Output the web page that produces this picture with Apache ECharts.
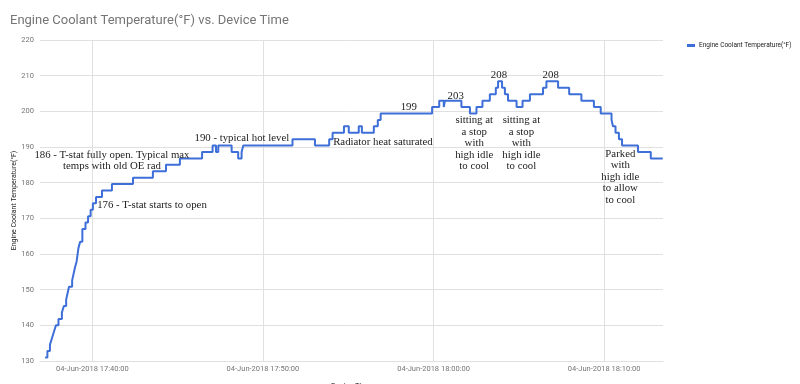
<!DOCTYPE html>
<html>
<head>
<meta charset="utf-8">
<script src="https://cdn.jsdelivr.net/npm/echarts@6/dist/echarts.min.js"></script>
<style>
html,body{margin:0;padding:0;background:#fff;}
#chart{width:800px;height:384px;}
</style>
</head>
<body>
<div id="chart"></div>
<script>
// ---- data ----
const deviceTimes = ['17:37:14','17:37:22','17:37:31','17:37:38','17:37:45','17:37:52','17:38:01','17:38:13','17:38:20','17:38:28',
  '17:38:33','17:38:38','17:38:49','17:38:54','17:38:59','17:39:05','17:39:11','17:39:17',
  '17:39:25','17:39:36','17:39:45','17:39:54','17:40:02','17:40:13','17:40:34','17:41:09','17:42:23','17:43:33',
  '17:44:19','17:45:08','17:46:26','17:47:03','17:47:15','17:47:23','17:48:10','17:48:33','17:48:45','17:48:51',
  '17:51:44','17:53:03','17:53:53','17:54:05','17:54:45','17:55:02','17:55:37','17:55:48','17:56:30','17:56:44',
  '17:56:54','17:59:55','18:00:20','18:00:36','18:00:40','18:01:38','18:02:08','18:02:31','18:02:52','18:03:18',
  '18:03:39','18:03:47','18:04:01','18:04:11','18:04:22','18:04:52','18:05:13','18:05:39','18:06:25','18:06:37',
  '18:07:18','18:07:57','18:08:40','18:09:24','18:09:48','18:10:26','18:10:31','18:10:40','18:10:52','18:11:03',
  '18:11:59','18:12:44','18:13:26'];
const coolantTempF = [131.0,132.8,134.6,136.4,138.2,140.0,141.8,143.6,145.4,147.2,
  149.0,150.8,152.6,154.4,156.2,158.0,161.6,163.4,
  167.0,168.8,170.6,172.4,174.2,176.0,177.8,179.6,181.4,183.2,
  185.0,186.8,188.6,190.4,188.6,190.4,188.6,186.8,188.6,190.4,
  192.2,190.4,192.2,194.0,195.8,194.0,195.8,194.0,195.8,197.6,
  199.4,201.2,203.0,201.2,203.0,201.2,199.4,201.2,203.0,204.8,
  206.6,208.4,206.6,204.8,203.0,201.2,203.0,204.8,206.6,208.4,
  206.6,204.8,203.0,201.2,199.4,197.6,195.8,194.0,192.2,190.4,
  188.6,186.8,186.8];
const yTicks = [130,140,150,160,170,180,190,200,210,220];
const xTickTimes = ['17:40:00','17:50:00','18:00:00','18:10:00'];
const axisStart = '17:36:56';
const axisEnd = '18:13:27';
const seriesName = 'Engine Coolant Temperature(°F)';
const chartTitle = 'Engine Coolant Temperature(°F) vs. Device Time';
const xAxisTitle = 'Device Time';
// annotations: text, anchor time, anchor temperature, alignment
const noteTexts = ['176 - T-stat starts to open','186 - T-stat fully open. Typical max\ntemps with old OE rad','190 - typical hot level',
  'Radiator heat saturated','199','203','208','208','sitting at\na stop\nwith\nhigh idle\nto cool','sitting at\na stop\nwith\nhigh idle\nto cool',
  'Parked\nwith\nhigh idle\nto allow\nto cool'];
const noteTimes = ['17:40:17','17:41:09','17:48:46','17:57:02','17:58:33','18:01:18','18:03:50','18:06:52','18:02:23','18:05:09','18:10:57'];
const noteTemps = [173.7,186.1,192.5,191.4,201.2,204.3,210.2,210.2,191.0,191.0,181.6];
const noteAlign = ['left','center','center','center','center','center','center','center','center','center','center'];

function ts(hms){
  const p = hms.split(':').map(Number);
  return new Date(2018,5,4,p[0],p[1],p[2]).getTime();
}
const pad = n => (n<10?'0':'')+n;
const months = ['Jan','Feb','Mar','Apr','May','Jun','Jul','Aug','Sep','Oct','Nov','Dec'];
function fmt(v){
  const d = new Date(v);
  return pad(d.getDate())+'-'+months[d.getMonth()]+'-'+d.getFullYear()+' '+pad(d.getHours())+':'+pad(d.getMinutes())+':'+pad(d.getSeconds());
}

const lineData = deviceTimes.map((t,i)=>[ts(t), coolantTempF[i]]);
const xTickValues = xTickTimes.map(ts);
const notes = noteTexts.map((txt,i)=>({
  coord:[ts(noteTimes[i]), noteTemps[i]],
  value: txt,
  label:{align: noteAlign[i]}
}));

const chart = echarts.init(document.getElementById('chart'), null, {renderer:'canvas'});
chart.setOption({
  animation:false,
  backgroundColor:'#ffffff',
  title:{
    text: chartTitle, left: 5, top: 9,
    textStyle:{fontFamily:'Roboto', fontSize:13, fontWeight:'normal', color:'#757575'}
  },
  legend:{
    data:[seriesName], left: 682, top: 37,
    itemWidth: 8, itemHeight: 3, itemGap: 4,
    icon: 'rect',
    textStyle:{fontFamily:'Roboto', fontSize:6.5, color:'#222', padding:[0,0,0,-1]}
  },
  grid:{left:40, right:137, top:40, bottom:23, containLabel:false, outerBoundsMode:'none'},
  xAxis:{
    type:'value',
    min: ts(axisStart), max: ts(axisEnd),
    name: xAxisTitle, nameLocation:'middle', nameGap: 21,
    nameTextStyle:{fontFamily:'Roboto', fontSize:7.5, color:'#222'},
    axisLine:{show:true, lineStyle:{color:'#e0e0e0'}},
    axisTick:{show:false, customValues: xTickValues},
    splitLine:{show:true, lineStyle:{color:'#e0e0e0', width:1}},
    axisLabel:{
      customValues: xTickValues,
      formatter: v => fmt(v),
      fontFamily:'Roboto', fontSize:7.5, color:'#757575', margin:4
    }
  },
  yAxis:{
    type:'value', min: yTicks[0], max: yTicks[yTicks.length-1], interval: 10,
    name: seriesName, nameLocation:'middle', nameGap: 22, nameRotate: 90,
    nameMoveOverlap:false,
    nameTextStyle:{fontFamily:'Roboto', fontSize:7, color:'#222'},
    axisLine:{show:false}, axisTick:{show:false},
    splitLine:{lineStyle:{color:'#e0e0e0', width:1}},
    axisLabel:{fontFamily:'Roboto', fontSize:7.5, color:'#757575', margin:6}
  },
  series:[{
    name: seriesName,
    type:'line',
    step:'end',
    data: lineData,
    showSymbol:false,
    symbol:'none',
    lineStyle:{color:'#3e6fd8', width:2},
    itemStyle:{color:'#3e6fd8'},
    markPoint:{
      symbol:'circle', symbolSize:0, silent:true, animation:false,
      label:{
        show:true, position:'inside', formatter: p => p.value,
        fontFamily:'Liberation Serif', fontSize:10.8, lineHeight:11.5, color:'#222'
      },
      data: notes
    }
  }]
});
</script>
</body>
</html>
